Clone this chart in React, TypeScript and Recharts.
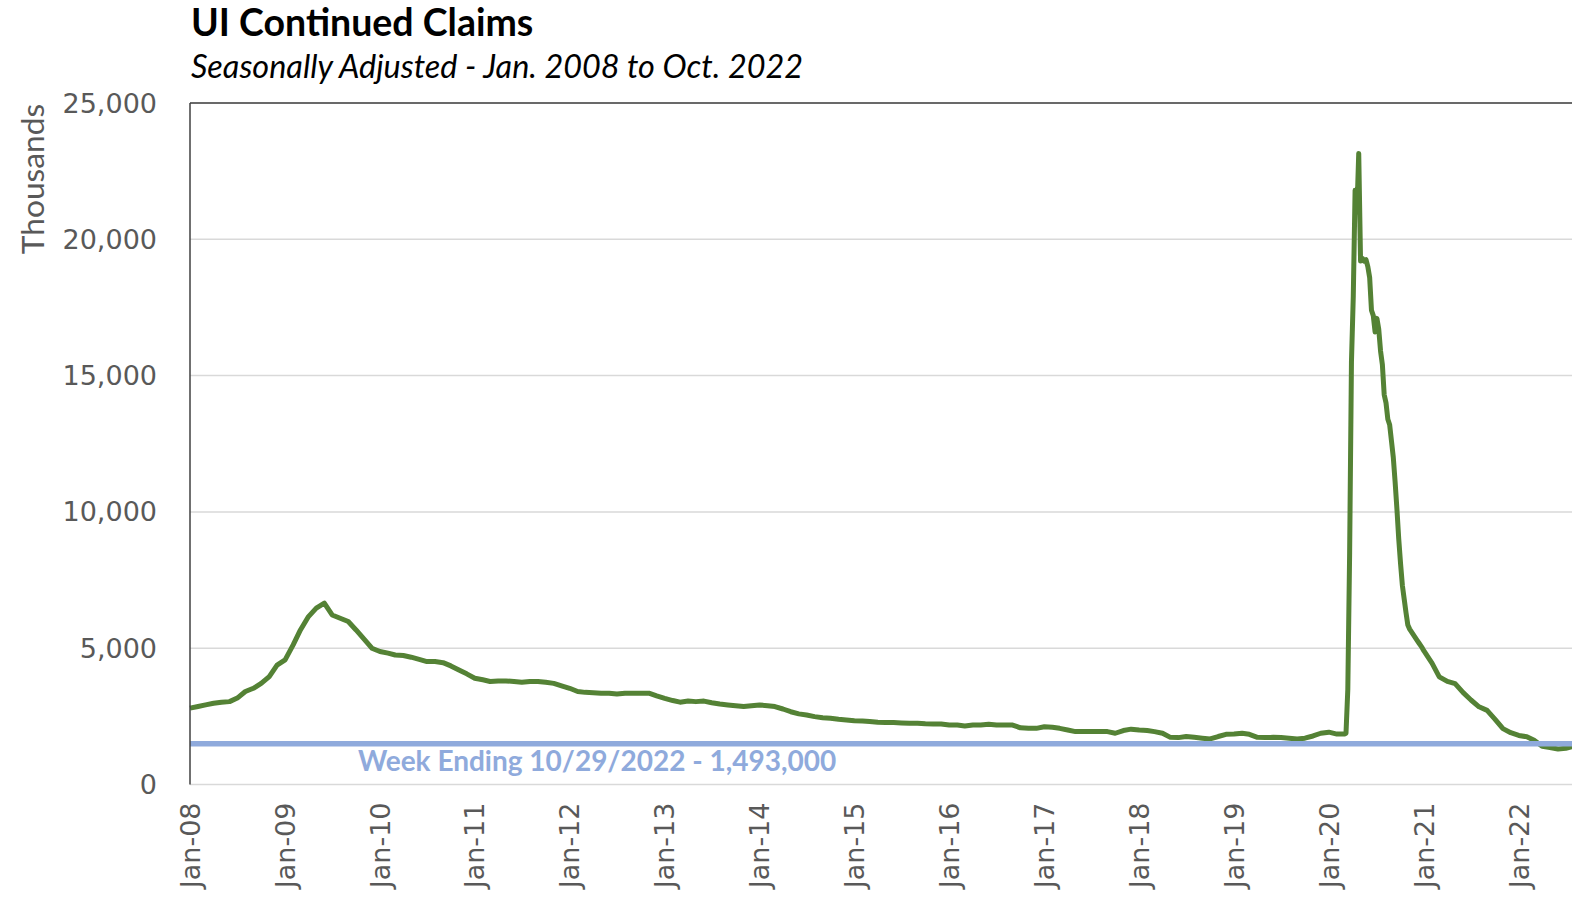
import React from 'react';
import { LineChart, Line, XAxis, YAxis, CartesianGrid, ReferenceLine } from 'recharts';

// UI continued claims, thousands, seasonally adjusted
const claims2008 = [2800, 2860, 2920, 2980, 3020, 3040, 3170, 3410, 3530, 3710, 3960, 4380];
const claims2009 = [4570, 5120, 5670, 6160, 6470, 6650, 6220, 6100, 5980, 5670, 5330, 5000];
const claims2010 = [4880, 4820, 4750, 4730, 4670, 4590, 4510, 4510, 4470, 4350, 4200, 4060];
const claims2011 = [3900, 3840, 3780, 3800, 3800, 3780, 3750, 3780, 3780, 3750, 3710, 3620];
const claims2012 = [3530, 3410, 3380, 3370, 3350, 3350, 3320, 3350, 3350, 3350, 3350, 3250];
const claims2013 = [3160, 3080, 3020, 3060, 3040, 3060, 3000, 2950, 2920, 2890, 2860, 2890];
const claims2014 = [2920, 2890, 2860, 2770, 2670, 2590, 2550, 2490, 2450, 2430, 2390, 2370];
const claims2015 = [2340, 2330, 2310, 2280, 2270, 2270, 2260, 2250, 2250, 2230, 2220, 2220];
const claims2016 = [2180, 2180, 2150, 2180, 2180, 2210, 2180, 2180, 2180, 2080, 2060, 2060];
const claims2017 = [2120, 2100, 2060, 2000, 1940, 1940, 1940, 1940, 1940, 1880, 1980, 2030];
const claims2018 = [2000, 1980, 1940, 1880, 1730, 1720, 1760, 1730, 1700, 1670, 1760, 1840];
const claims2019 = [1850, 1880, 1840, 1730, 1720, 1730, 1720, 1700, 1670, 1700, 1780, 1880];
const claims2020Monthly = [1920, 1850, 1850];
const weeks2020 = [
  '2020-03-07', '2020-03-14', '2020-03-21', '2020-03-28', '2020-04-04', '2020-04-11', '2020-04-18',
  '2020-04-25', '2020-05-02', '2020-05-09', '2020-05-16', '2020-05-23', '2020-05-30', '2020-06-06',
  '2020-06-13', '2020-06-20', '2020-06-27', '2020-07-04', '2020-07-11', '2020-07-18', '2020-07-25',
  '2020-08-01', '2020-08-08', '2020-08-15', '2020-08-22', '2020-08-29', '2020-09-05', '2020-09-12',
  '2020-09-19', '2020-09-26', '2020-10-03', '2020-10-10', '2020-10-17', '2020-10-24', '2020-10-31',
  '2020-11-07', '2020-11-14', '2020-11-21', '2020-11-28', '2020-12-05', '2020-12-12', '2020-12-19',
  '2020-12-26',
];
const claims2020Weekly = [
  1880, 3500, 8500, 15500, 17900, 21800, 21000,
  23150, 19200, 19300, 19200, 19250, 19000, 18600,
  17400, 17200, 16600, 17100, 16700, 15900, 15400,
  14300, 14000, 13400, 13200, 12600, 12000, 11100,
  10100, 9000, 8100, 7300, 6800, 6300, 5850,
  5700, 5600, 5500, 5400, 5300, 5200, 5100,
  5000,
];
const claims2021 = [4900, 4450, 3950, 3780, 3700, 3370, 3100, 2850, 2720, 2400, 2050, 1900];
const claims2022 = [1800, 1750, 1620, 1400, 1360, 1300, 1330, 1400, 1420, 1460];
const latestWeek = '2022-10-29';
const latestClaims = 1493;

const monthlySets: [number, number[]][] = [
  [2008, claims2008], [2009, claims2009], [2010, claims2010], [2011, claims2011],
  [2012, claims2012], [2013, claims2013], [2014, claims2014], [2015, claims2015],
  [2016, claims2016], [2017, claims2017], [2018, claims2018], [2019, claims2019],
  [2020, claims2020Monthly],
];

const tickYears = [2008, 2009, 2010, 2011, 2012, 2013, 2014, 2015, 2016, 2017, 2018, 2019, 2020, 2021, 2022];
const yTicks = [0, 5000, 10000, 15000, 20000, 25000];

const parseDay = (s: string) => {
  const [y, m, d] = s.split('-').map(Number);
  return Date.UTC(y, m - 1, d);
};

const data: { t: number; claims: number }[] = [];
monthlySets.forEach(([year, vals]) => vals.forEach((v, m) => data.push({ t: Date.UTC(year, m, 1), claims: v })));
weeks2020.forEach((w, i) => data.push({ t: parseDay(w), claims: claims2020Weekly[i] }));
claims2021.forEach((v, m) => data.push({ t: Date.UTC(2021, m, 1), claims: v }));
claims2022.forEach((v, m) => data.push({ t: Date.UTC(2022, m, 1), claims: v }));
data.push({ t: parseDay(latestWeek), claims: latestClaims });

const xTicks = tickYears.map((y) => Date.UTC(y, 0, 1));
const xDomain = [Date.UTC(2008, 0, 1), parseDay(latestWeek)];

const GRAY = '#595959';
const TICK_FONT = '"DejaVu Sans", Verdana, sans-serif';
const TITLE_FONT = 'Lato, "Open Sans", sans-serif';

const fmtYear = (t: number) => 'Jan-' + String(new Date(t).getUTCFullYear() % 100).padStart(2, '0');

const XTick = (props: any) => {
  const { x, y, payload } = props;
  return (
    <text
      x={x}
      y={y}
      transform={`rotate(-90 ${x} ${y})`}
      textAnchor="end"
      dy="0.36em"
      fill={GRAY}
      fontSize={27}
      fontFamily={TICK_FONT}
    >
      {fmtYear(payload.value)}
    </text>
  );
};

const AnnotationLabel = (props: any) => {
  const vb = props.viewBox || {};
  return (
    <text
      x={(vb.x || 0) + 168}
      y={(vb.y || 0) + 27}
      fill="#8FAADC"
      fontSize={28}
      fontWeight={700}
      fontFamily={TITLE_FONT}
    >
      {'Week Ending 10/29/2022 - 1,493,000'}
    </text>
  );
};

export default function App() {
  return (
    <div
      style={{
        position: 'absolute',
        left: 0,
        top: 0,
        width: 1572,
        height: 900,
        overflow: 'hidden',
        background: '#fff',
      }}
    >
      <div style={{ position: 'absolute', left: 0, top: 0 }}>
        <LineChart width={1620} height={900} data={data} margin={{ top: 103, right: 23, bottom: 0, left: 0 }}>
          <CartesianGrid vertical={false} stroke="#D9D9D9" strokeWidth={1.5} />
          <XAxis
            dataKey="t"
            type="number"
            domain={xDomain}
            ticks={xTicks}
            interval={0}
            height={115.5}
            axisLine={false}
            tickLine={false}
            tickSize={0}
            tickMargin={18}
            tick={<XTick />}
          />
          <YAxis
            type="number"
            domain={[0, 25000]}
            ticks={yTicks}
            interval={0}
            width={190}
            axisLine={{ stroke: '#404040', strokeWidth: 1.5 }}
            tickLine={false}
            tickSize={0}
            tickMargin={33}
            tick={{ fill: GRAY, fontSize: 27, fontFamily: TICK_FONT }}
            tickFormatter={(v: number) => v.toLocaleString('en-US')}
          />
          <ReferenceLine y={25000} stroke="#404040" strokeWidth={1.5} />
          <Line
            type="linear"
            dataKey="claims"
            stroke="#548235"
            strokeWidth={5}
            dot={false}
            strokeLinejoin="round"
            isAnimationActive={false}
          />
          <ReferenceLine y={latestClaims} stroke="#8FAADC" strokeWidth={5.5} label={AnnotationLabel} />
        </LineChart>
      </div>
      <svg width={1572} height={900} style={{ position: 'absolute', left: 0, top: 0, pointerEvents: 'none' }}>
        <text x={191} y={36} fontFamily={TITLE_FONT} fontWeight={700} fontSize={37.5} fill="#000">
          UI Continued Claims
        </text>
        <text x={191} y={78} fontFamily={TITLE_FONT} fontStyle="italic" fontSize={32.4} fill="#000">
          Seasonally Adjusted - Jan. 2008 to Oct. 2022
        </text>
        <text
          x={44}
          y={179}
          transform="rotate(-90 44 179)"
          textAnchor="middle"
          fontFamily={TITLE_FONT}
          fontSize={31.7}
          fill={GRAY}
        >
          Thousands
        </text>
      </svg>
    </div>
  );
}
